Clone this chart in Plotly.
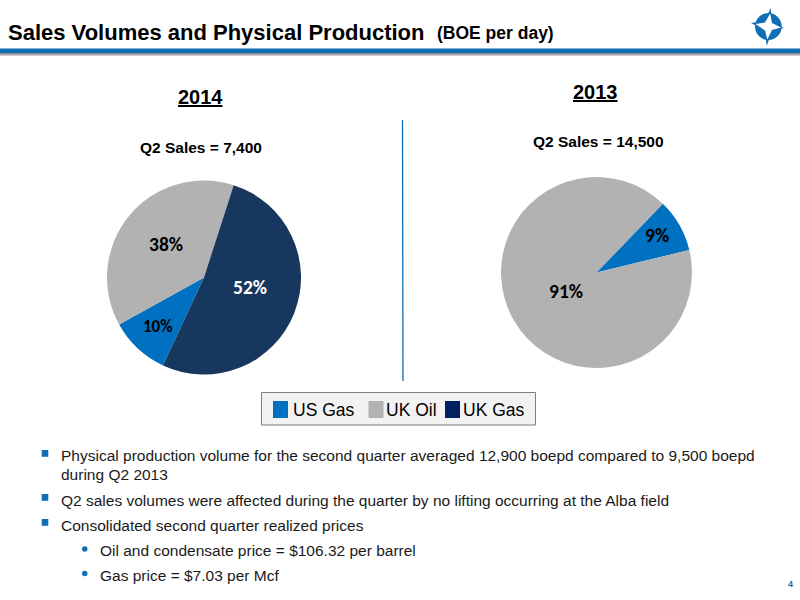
import plotly.graph_objects as go

W, H = 800, 600

# ---- data ----
categories = ["US Gas", "UK Oil", "UK Gas"]
share_2014 = [10, 38, 52]
share_2013 = [9, 91, 0]
slice_colors = ["#0070C0", "#B2B2B2", "#17375E"]
legend_colors = ["#0070C0", "#B2B2B2", "#002060"]
title_main = "Sales Volumes and Physical Production"
title_unit = "(BOE per day)"
bullets = [
    "Physical production volume for the second quarter averaged 12,900 boepd compared to 9,500 boepd",
    "during Q2 2013",
    "Q2 sales volumes were affected during the quarter by no lifting occurring at the Alba field",
    "Consolidated second quarter realized prices",
    "Oil and condensate price = $106.32 per barrel",
    "Gas price = $7.03 per Mcf",
]

FONT = "Liberation Sans"
px = lambda x: x / W
py = lambda y: 1 - y / H


def domain(cx, cy, r):
    return dict(x=[px(cx - r), px(cx + r)], y=[py(cy + r), py(cy - r)])


fig = go.Figure()
fig.add_trace(go.Pie(
    labels=categories, values=share_2014, sort=False, direction="clockwise", rotation=205,
    domain=domain(204, 277.5, 97), marker=dict(colors=slice_colors, line=dict(width=0)),
    textinfo="none", hoverinfo="label+percent", showlegend=False,
))
fig.add_trace(go.Pie(
    labels=categories, values=share_2013, sort=False, direction="clockwise", rotation=44,
    domain=domain(596.5, 272.5, 95.5), marker=dict(colors=slice_colors, line=dict(width=0)),
    textinfo="none", hoverinfo="label+percent", showlegend=False,
))

shapes = []
annotations = []


def rect(x0, y0, x1, y1, fill, line=None, lw=0):
    shapes.append(dict(type="rect", xref="paper", yref="paper", x0=px(x0), x1=px(x1), y0=py(y0), y1=py(y1),
                       fillcolor=fill, line=dict(color=line or fill, width=lw)))


def text(x, y, s, size, color="#000000", anchor="left", bold=False, family=FONT):
    annotations.append(dict(xref="paper", yref="paper", x=px(x), y=py(y), text=f"<b>{s}</b>" if bold else s,
                            showarrow=False, xanchor=anchor, yanchor="middle",
                            font=dict(family=family, size=size, color=color), borderpad=0, borderwidth=0))


def path(points, fill):
    d = "M " + " L ".join(f"{px(a):.5f},{py(b):.5f}" for a, b in points) + " Z"
    shapes.append(dict(type="path", xref="paper", yref="paper", path=d, fillcolor=fill, line=dict(width=0)))


# header rule
rect(0, 48.5, 800, 53, "#0F6FB5")
for i, c in enumerate(["#8E8E8E", "#ABABAB", "#CFCFCF"]):
    rect(0, 53 + i, 800, 54 + i, c)

# logo: blue spikes, disc, white star
path([(770.7, 8), (772, 20), (765, 20)], "#0F6FB5")
path([(784, 28), (772, 23), (772, 31)], "#0F6FB5")
path([(766.7, 45.7), (765, 33), (771.5, 33)], "#0F6FB5")
path([(751, 23), (764, 21), (764, 30)], "#0F6FB5")
shapes.append(dict(type="circle", xref="paper", yref="paper", x0=px(755), x1=px(781.7), y0=py(40), y1=py(13),
                   fillcolor="#0F6FB5", line=dict(width=0)))
path([(770.2, 13.5), (772, 23), (781, 27.5), (772, 30), (767.3, 39.5), (765, 30.5), (755.5, 24), (765, 22.5)], "#FFFFFF")

# divider
shapes.append(dict(type="line", xref="paper", yref="paper", x0=px(402.5), x1=px(403), y0=py(120), y1=py(381),
                   line=dict(color="#0F6FB5", width=1.3)))

# legend box
rect(261.5, 392.5, 535.5, 425, "#F2F2F2", "#7F7F7F", 1)
for x0, c, lab, tx in zip([273, 368.5, 445], legend_colors, categories, [293, 386, 463]):
    rect(x0, 401, x0 + 15, 418, c, c, 0)
    text(tx, 409.5, lab, 17.5, "#000000")

# titles
text(8, 32, title_main, 22, bold=True)
text(437, 33, title_unit, 17.5, bold=True)
text(200.5, 97, "<u>2014</u>", 20, anchor="center", bold=True)
text(595.5, 92, "<u>2013</u>", 20, anchor="center", bold=True)
text(200.5, 147, "Q2 Sales = 7,400", 15.5, anchor="center", bold=True)
text(598.5, 141, "Q2 Sales = 14,500", 15.5, anchor="center", bold=True)

# pie labels
for x, y, v, c, fs in [(249.5, 287, share_2014[2], "#FFFFFF", 19.5), (166, 244, share_2014[1], "#000000", 19.5),
                       (158, 326, share_2014[0], "#000000", 17), (566, 291, share_2013[1], "#000000", 19.5),
                       (657, 235, share_2013[0], "#000000", 19.5)]:
    text(x, y, f"{v}%", fs, c, anchor="center", bold=True, family="Carlito, Lato")

# bullets
ys = [455.5, 474.5, 500, 525.5, 550.5, 575.5]
xs = [61, 61, 61, 61, 100, 100]
for x, y, s in zip(xs, ys, bullets):
    text(x, y, s, 15.5, "#1a1a1a")
for y in [450, 494, 519]:
    rect(41.7, y, 48.3, y + 6.8, "#0F6FB5")
for y in [549, 573.5]:
    shapes.append(dict(type="circle", xref="paper", yref="paper", x0=px(82), x1=px(87.5), y0=py(y + 2.7), y1=py(y - 2.7),
                       fillcolor="#0F6FB5", line=dict(width=0)))
text(790, 584, "4", 9, "#0F6FB5", anchor="center", bold=True)

fig.update_layout(width=W, height=H, margin=dict(l=0, r=0, t=0, b=0), paper_bgcolor="#FFFFFF",
                  plot_bgcolor="#FFFFFF", shapes=shapes, annotations=annotations, showlegend=False)
fig.write_html("out.html", post_script="document.body.style.margin='0';document.body.style.overflow='hidden';",
               config=dict(displayModeBar=False))
